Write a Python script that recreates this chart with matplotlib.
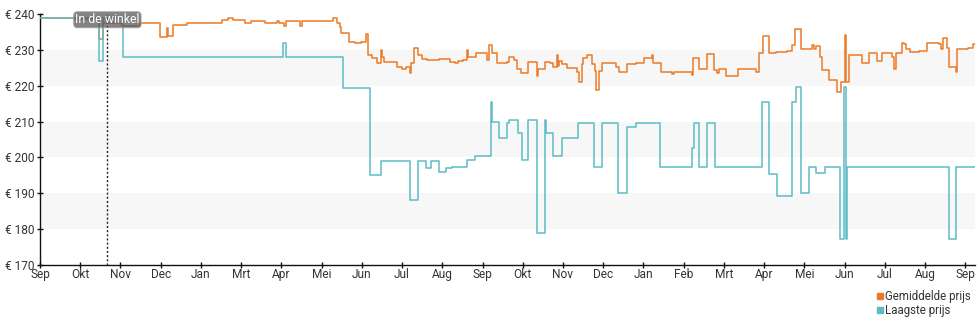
import matplotlib
matplotlib.use("Agg")
import matplotlib.pyplot as plt
from matplotlib.lines import Line2D

# price history, day offsets from the first day shown (steps: value holds until next day)
avg_days = [0, 26, 45, 48, 62, 76, 91, 96, 97, 101, 111, 138, 142, 146, 155, 160,
            170, 179, 181, 185, 186, 197, 198, 222, 225, 227, 228, 234, 238, 243,
            247, 248, 251, 255, 258, 259, 260, 270, 274, 277, 280, 281, 283, 286,
            289, 293, 302, 310, 314, 316, 320, 323, 324, 330, 338, 340, 342, 346,
            353, 355, 359, 361, 364, 369, 370, 376, 377, 382, 386, 388, 391, 392,
            393, 395, 399, 406, 408, 410, 411, 414, 418, 420, 421, 423, 425, 427,
            436, 438, 444, 451, 457, 463, 464, 470, 478, 480, 493, 494, 499, 505,
            510, 512, 514, 519, 528, 542, 544, 547, 552, 557, 565, 569, 571, 576,
            584, 586, 587, 590, 592, 597, 603, 606, 609, 610, 612, 622, 627, 633,
            637, 645, 646, 648, 652, 654, 655, 658, 665, 671, 680, 682, 683, 686,
            688, 693, 694, 702, 706, 708]
avg_price = [239, 238.5, 233, 237.5, 236.7, 237.4, 233.7, 236, 234, 236.8, 237.4,
             238.3, 238.8, 238.3, 237.4, 238, 237.4, 238, 237.4, 236.7, 238,
             236.7, 238.1, 238.8, 237.5, 236.5, 234.6, 232.3, 232, 232.3, 234.4,
             228.6, 227.6, 226.2, 230, 228, 226.7, 225.3, 224.6, 225.3, 223.6,
             226.2, 230.4, 228.6, 227.4, 227.2, 227.4, 226.7, 226.4, 226.9, 227.2,
             230, 228.1, 229, 227.2, 231.4, 229, 226.4, 226.7, 228.1, 227.2, 224.6,
             223.6, 226.5, 226.7, 222.7, 224.6, 226.7, 226.2, 225.3, 228.6, 225.5,
             226.9, 226, 225, 223.9, 220.9, 226, 227.6, 228.6, 226, 224, 218.8,
             224, 226.2, 226.4, 225.3, 223.9, 226, 226.2, 227.6, 228.6, 226.2,
             223.9, 223.4, 223.9, 223, 227.6, 224.6, 228.8, 224.4, 223.6, 224.6,
             222.7, 224.6, 223.9, 229, 233.9, 229, 229.5, 229.8, 231.4, 235.8,
             230.2, 231.4, 230.2, 231.2, 228.1, 224.4, 221.6, 218.3, 221, 234.1,
             221.1, 228.6, 226.4, 229, 227, 229, 228, 224.6, 229, 232, 231.6,
             230.2, 229.3, 229.6, 232, 231.6, 230.2, 233.2, 230.4, 225.3, 223.9,
             230.2, 230.4, 231.6, 231.6]

low_days = [0, 45, 48, 63, 184, 186, 229, 250, 258, 280, 286, 292, 296, 302, 307,
            312, 323, 329, 341, 342, 347, 353, 355, 362, 365, 369, 376, 382, 383,
            388, 395, 407, 419, 425, 437, 444, 451, 469, 493, 495, 499, 505, 511,
            546, 552, 558, 569, 572, 576, 582, 587, 594, 605, 608, 610, 611, 688,
            693, 708]
low_price = [239, 227, 239, 228, 232, 228, 219.5, 195, 199, 188, 199, 197, 199,
             196, 197, 197.3, 199.3, 200.4, 215.5, 210, 205.5, 209.5, 210.4, 206.7,
             199.3, 210.4, 179, 210.4, 206.7, 200.4, 205.5, 209.7, 197.4, 209.7,
             190.2, 208.6, 209.7, 197.4, 202.5, 209.7, 197.4, 209.7, 197.4, 215.5,
             195.4, 189.2, 215.5, 219.7, 190.2, 197.4, 195.6, 197.4, 177.3, 219.7,
             177.3, 197.4, 177.3, 197.4, 197.4]

month_labels = ["Sep", "Okt", "Nov", "Dec", "Jan", "Mrt", "Apr", "Mei", "Jun", "Jul",
                "Aug", "Sep", "Okt", "Nov", "Dec", "Jan", "Feb", "Mrt", "Apr", "Mei",
                "Jun", "Jul", "Aug", "Sep"]
y_ticks = [170, 180, 190, 200, 210, 220, 230, 240]
shaded_bands = [(180, 190), (200, 210), (220, 230)]
in_store_day = 51

ORANGE = "#ec7a25"
TEAL = "#5bbcc6"
TEXT = "#333333"

plt.rcParams["font.family"] = ["Roboto", "DejaVu Sans"]

fig = plt.figure(figsize=(9.8, 3.25), dpi=100)
ax = fig.add_axes([40 / 980, 1 - 265 / 325, 935 / 980, 251 / 325])

for lo, hi in shaded_bands:
    ax.axhspan(lo, hi, color="#f7f7f7", lw=0, zorder=0)

ax.plot(avg_days, avg_price, drawstyle="steps-post", color=ORANGE, lw=1.1, zorder=2)
ax.plot(low_days, low_price, drawstyle="steps-post", color=TEAL, lw=1.1, zorder=3)

ax.axvline(in_store_day, color="#222222", lw=1, ls=(0, (1.5, 1.5)), zorder=4)
ax.text(in_store_day, 238.4, "In de winkel", ha="center", va="center",
        color="white", fontsize=8.8, zorder=5,
        bbox=dict(boxstyle="round,pad=0.12,rounding_size=0.3", fc="#5a5a5a",
                  ec="#9a9a9a", lw=0.8, alpha=0.75))

ax.set_xlim(0, 707.5)
ax.set_ylim(170, 240)
ax.set_xticks([i * 30.44 for i in range(len(month_labels))])
ax.set_xticklabels(month_labels)
ax.set_yticks(y_ticks)
ax.set_yticklabels([f"€ {v}" for v in y_ticks])
ax.tick_params(axis="both", direction="inout", length=5, width=1,
               labelsize=8.6, labelcolor=TEXT, color="#111111")
ax.tick_params(axis="x", pad=0)
ax.tick_params(axis="y", pad=1.5)

for side in ("top", "right"):
    ax.spines[side].set_visible(False)
for side in ("left", "bottom"):
    ax.spines[side].set_color("#111111")
    ax.spines[side].set_linewidth(1)

handles = [Line2D([], [], ls="", marker="s", ms=5, mfc=ORANGE, mec=ORANGE),
           Line2D([], [], ls="", marker="s", ms=5, mfc=TEAL, mec=TEAL)]
fig.legend(handles, ["Gemiddelde prijs", "Laagste prijs"], loc="upper right",
           bbox_to_anchor=(0.998, 0.13), frameon=False, fontsize=8.3,
           labelcolor=TEXT, handlelength=0.6, handletextpad=0.2,
           labelspacing=0.1, borderpad=0.1)

fig.savefig("out.png", dpi=100)
